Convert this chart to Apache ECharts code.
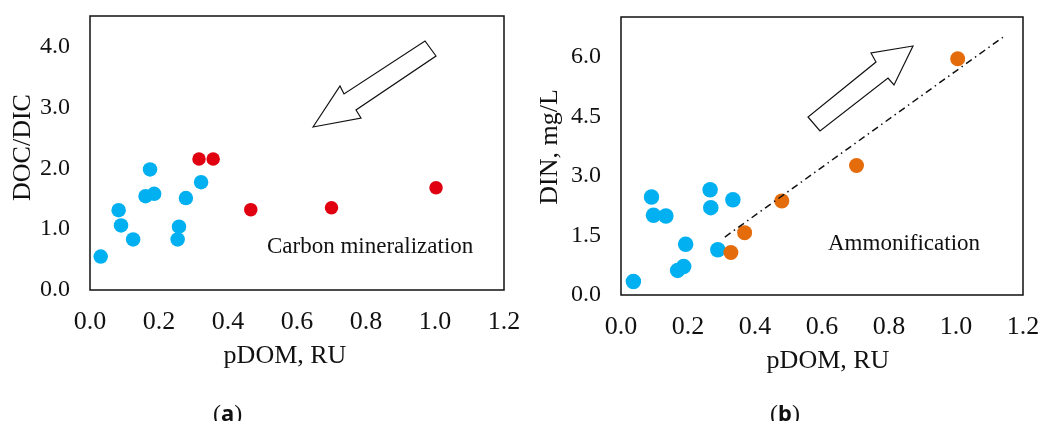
<!DOCTYPE html>
<html>
<head>
<meta charset="utf-8">
<script src="https://cdn.jsdelivr.net/npm/echarts@6/dist/echarts.min.js"></script>
<style>
html, body { margin: 0; padding: 0; background: #fff; }
#chart { width: 1051px; height: 421px; }
</style>
</head>
<body>
<div id="chart"></div>
<script>
// (a) DOC/DIC vs pDOM
const blueA = [[0.031, 0.55], [0.083, 1.31], [0.090, 1.06], [0.125, 0.83], [0.161, 1.54], [0.174, 1.98],
  [0.186, 1.58], [0.254, 0.83], [0.258, 1.04], [0.278, 1.51], [0.322, 1.77]];
const redA = [[0.316, 2.15], [0.357, 2.15], [0.466, 1.32], [0.700, 1.35], [1.003, 1.68]];
// (b) DIN vs pDOM
const blueB = [[0.037, 0.34], [0.091, 2.47], [0.097, 2.01], [0.134, 1.99], [0.169, 0.62], [0.187, 0.72],
  [0.193, 1.28], [0.266, 2.65], [0.268, 2.20], [0.289, 1.14], [0.334, 2.40]];
const orangeB = [[0.328, 1.07], [0.369, 1.57], [0.480, 2.37], [0.703, 3.26], [1.005, 5.95]];
const trendB = [[0.31, 1.46], [1.14, 6.49]];

// axis ticks
const xTicks = [0, 0.2, 0.4, 0.6, 0.8, 1.0, 1.2];
const yTicksA = [0, 1, 2, 3, 4];
const yMaxA = 4.5;
const yTicksB = [0, 1.5, 3, 4.5, 6];
const yMaxB = 7;

const font = "'Liberation Serif', 'Times New Roman', serif";

function xAxis(grid, pad) {
  return {
    type: 'value', gridIndex: grid,
    min: xTicks[0], max: xTicks[xTicks.length - 1], interval: xTicks[1] - xTicks[0],
    name: 'pDOM, RU', nameLocation: 'middle', nameGap: 53,
    nameTextStyle: { fontFamily: font, fontSize: 26, color: '#111', padding: pad },
    axisLine: { show: false }, axisTick: { show: false }, splitLine: { show: false },
    axisLabel: { margin: 19, fontFamily: font, fontSize: 26, color: '#111',
      formatter: v => v.toFixed(1) }
  };
}
function yAxis(grid, ticks, max, name, gap, pad) {
  return {
    type: 'value', gridIndex: grid,
    min: ticks[0], max: max, interval: ticks[1] - ticks[0],
    name: name, nameLocation: 'middle', nameGap: gap,
    nameTextStyle: { fontFamily: font, fontSize: 26, color: '#111', padding: pad },
    axisLine: { show: false }, axisTick: { show: false }, splitLine: { show: false },
    axisLabel: { margin: 20, fontFamily: font, fontSize: 24, color: '#111',
      showMaxLabel: false, formatter: v => v.toFixed(1) }
  };
}

const chart = echarts.init(document.getElementById('chart'));
const option = {
  backgroundColor: '#fff',
  animation: false,
  grid: [
    { left: 90, top: 16, width: 414, height: 274, show: true, borderColor: '#111', borderWidth: 1.5 },
    { left: 621, top: 17, width: 402, height: 278, show: true, borderColor: '#111', borderWidth: 1.5 }
  ],
  xAxis: [xAxis(0, [0, 24, 0, 0]), xAxis(1, [0, 0, 0, 12])],
  yAxis: [yAxis(0, yTicksA, yMaxA, 'DOC/DIC', 52, [0, 0, 0, 11]),
    yAxis(1, yTicksB, yMaxB, 'DIN, mg/L', 58, [0, 0, 0, 18])],
  series: [
    { type: 'scatter', xAxisIndex: 0, yAxisIndex: 0, data: blueA, symbolSize: 14.5,
      itemStyle: { color: '#00B0F0', opacity: 1 } },
    { type: 'scatter', xAxisIndex: 0, yAxisIndex: 0, data: redA, symbolSize: 13.5,
      itemStyle: { color: '#E00010', opacity: 1 } },
    { type: 'line', xAxisIndex: 1, yAxisIndex: 1, data: trendB, symbol: 'none',
      lineStyle: { color: '#111', width: 1.5, type: [7, 4, 1.5, 4] } },
    { type: 'scatter', xAxisIndex: 1, yAxisIndex: 1, data: blueB, symbolSize: 15.5,
      itemStyle: { color: '#00B0F0', opacity: 1 } },
    { type: 'scatter', xAxisIndex: 1, yAxisIndex: 1, data: orangeB, symbolSize: 15,
      itemStyle: { color: '#E46C0A', opacity: 1 } }
  ],
  graphic: [
    // arrows
    { type: 'polygon', shape: { points: [[313, 127], [340, 86], [344, 94], [425, 41], [436, 56], [356, 110], [361, 118]] },
      style: { fill: '#fff', stroke: '#111', lineWidth: 1.2 } },
    { type: 'polygon', shape: { points: [[913, 46], [871, 53], [876, 62], [808, 117], [820, 131], [888, 78], [894, 85]] },
      style: { fill: '#fff', stroke: '#111', lineWidth: 1.2 } },
    { type: 'text', left: 267, top: 235,
      style: { text: 'Carbon mineralization', font: '23px ' + font, fill: '#111' } },
    { type: 'text', left: 828, top: 232,
      style: { text: 'Ammonification', font: '23px ' + font, fill: '#111' } },
    { type: 'text', left: 213, top: 403,
      style: { text: '{n|(}{b|a}{n|)}', rich: {
        n: { fontFamily: font, fontSize: 24, fill: '#111' },
        b: { fontFamily: "'Noto Sans', sans-serif", fontWeight: 'bold', fontSize: 22, fill: '#111' } } } },
    { type: 'text', left: 770, top: 403,
      style: { text: '{n|(}{b|b}{n|)}', rich: {
        n: { fontFamily: font, fontSize: 24, fill: '#111' },
        b: { fontFamily: "'Noto Sans', sans-serif", fontWeight: 'bold', fontSize: 22, fill: '#111' } } } }
  ]
};
chart.setOption(option);
window.addEventListener('resize', () => chart.resize());
</script>
</body>
</html>
